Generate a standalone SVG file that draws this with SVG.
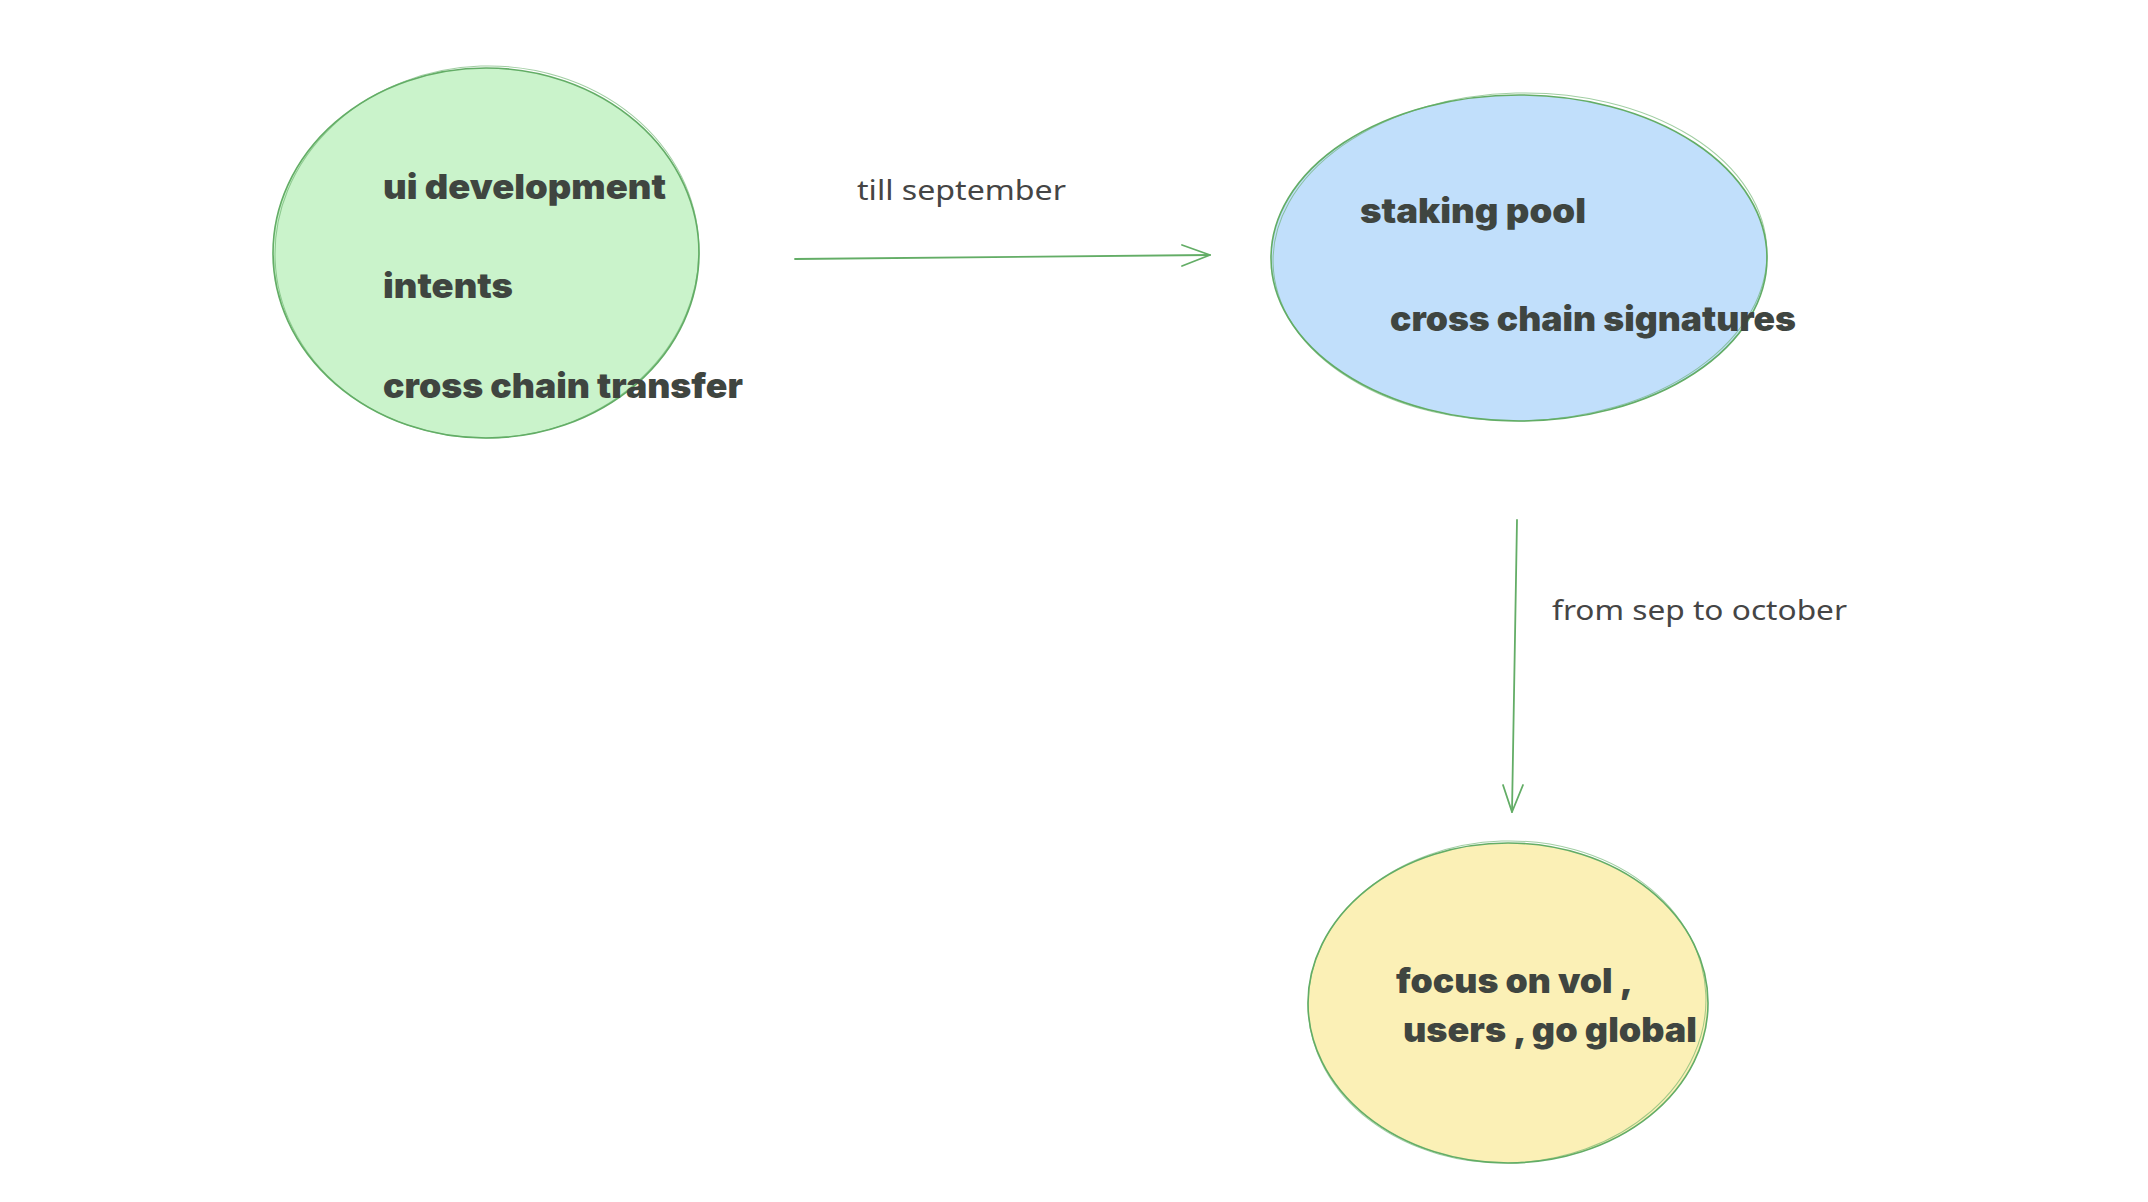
<svg xmlns="http://www.w3.org/2000/svg" width="2148" height="1202" viewBox="0 0 2148 1202">
<style>
.node{stroke:#63ad66;stroke-width:1.6}
.rough{fill:none;stroke:#63ad66;stroke-width:1;opacity:0.6}
.nt{font-family:Inter,"Noto Sans","Liberation Sans",sans-serif;font-weight:900;font-size:34px;fill:#3f4540}
.lbl{font-family:"Noto Sans","Open Sans","Liberation Sans",sans-serif;font-size:28px;fill:#454545}
.edge{fill:none;stroke:#63ad66;stroke-width:1.8;stroke-linecap:round;stroke-linejoin:round}
</style>
<rect width="2148" height="1202" fill="#ffffff"/>
<g id="node-green">
<ellipse class="node" cx="486" cy="253" rx="213" ry="185" fill="#caf3cb"/>
<ellipse class="rough" cx="487" cy="252" rx="212" ry="186" transform="rotate(-2 487 252)"/>
<text class="nt" x="383" y="199" textLength="283" lengthAdjust="spacingAndGlyphs">ui development</text>
<text class="nt" x="383" y="298" textLength="130" lengthAdjust="spacingAndGlyphs">intents</text>
<text class="nt" x="383" y="398" textLength="360" lengthAdjust="spacingAndGlyphs">cross chain transfer</text>
</g>
<g id="node-blue">
<ellipse class="node" cx="1519" cy="258" rx="248" ry="163" fill="#c1dffb"/>
<ellipse class="rough" cx="1520" cy="257" rx="247" ry="164" transform="rotate(-1.5 1520 257)"/>
<text class="nt" x="1360" y="223" textLength="226" lengthAdjust="spacingAndGlyphs">staking pool</text>
<text class="nt" x="1390" y="331" textLength="406" lengthAdjust="spacingAndGlyphs">cross chain signatures</text>
</g>
<g id="node-yellow">
<ellipse class="node" cx="1508" cy="1003" rx="200" ry="160" fill="#fbf0b6"/>
<ellipse class="rough" cx="1507" cy="1002" rx="199" ry="161" transform="rotate(-2 1507 1002)"/>
<text class="nt" x="1396" y="993" textLength="237" lengthAdjust="spacingAndGlyphs">focus on vol ,</text>
<text class="nt" x="1403" y="1042" textLength="294" lengthAdjust="spacingAndGlyphs">users , go global</text>
</g>
<g id="connectors">
<path class="edge" d="M795 259 L1210 255"/>
<path class="edge" d="M1182 245 L1210 255 L1182 266"/>
<path class="edge" d="M1517 520 L1512 812"/>
<path class="edge" d="M1503 785 L1512 812 L1523 785"/>
<text class="lbl" x="857" y="200" textLength="209" lengthAdjust="spacingAndGlyphs">till september</text>
<text class="lbl" x="1552" y="620" textLength="295" lengthAdjust="spacingAndGlyphs">from sep to october</text>
</g>
</svg>
